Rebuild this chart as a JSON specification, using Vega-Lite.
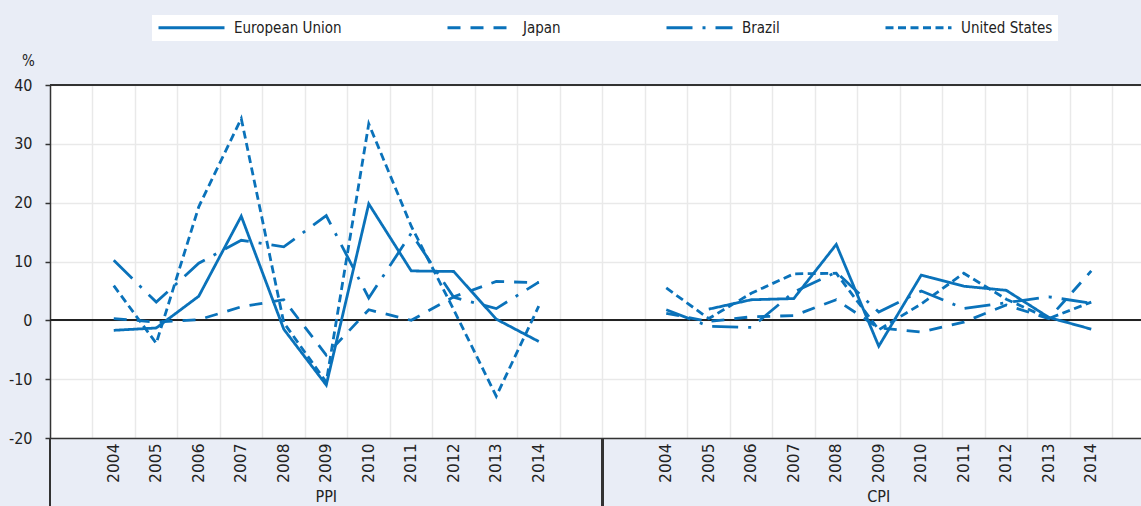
{
  "$schema": "https://vega.github.io/schema/vega-lite/v6.json",
  "width": 1091,
  "height": 353,
  "autosize": {"type": "none"},
  "padding": {"left": 50, "top": 85, "right": 0, "bottom": 68},
  "background": "#e9edf6",
  "config": {
    "view": {"fill": "white", "stroke": null},
    "font": "DejaVu Sans Condensed",
    "legend": {
      "orient": "none",
      "legendX": 102,
      "legendY": -70,
      "direction": "horizontal",
      "columns": 4,
      "columnPadding": 99,
      "fillColor": "white",
      "padding": 5,
      "symbolType": "M-1,0H10",
      "symbolSize": 144,
      "symbolStrokeWidth": 3,
      "symbolStrokeColor": "#0a72ba",
      "labelFontSize": 15,
      "labelFont": "DejaVu Sans Condensed",
      "labelColor": "#222222",
      "labelOffset": 62,
      "labelLimit": 400
    }
  },
  "datasets": {
    "series": [
      {"group": "PPI", "key": "PPI|2004", "series": "European Union", "v": -1.7},
      {"group": "PPI", "key": "PPI|2005", "series": "European Union", "v": -1.3},
      {"group": "PPI", "key": "PPI|2006", "series": "European Union", "v": 4.1},
      {"group": "PPI", "key": "PPI|2007", "series": "European Union", "v": 17.7},
      {"group": "PPI", "key": "PPI|2008", "series": "European Union", "v": -1.5},
      {"group": "PPI", "key": "PPI|2009", "series": "European Union", "v": -11.0},
      {"group": "PPI", "key": "PPI|2010", "series": "European Union", "v": 19.8},
      {"group": "PPI", "key": "PPI|2011", "series": "European Union", "v": 8.4},
      {"group": "PPI", "key": "PPI|2012", "series": "European Union", "v": 8.3},
      {"group": "PPI", "key": "PPI|2013", "series": "European Union", "v": 0.2},
      {"group": "PPI", "key": "PPI|2014", "series": "European Union", "v": -3.6},
      {"group": "PPI", "key": "PPI|2004", "series": "Japan", "v": 0.3},
      {"group": "PPI", "key": "PPI|2005", "series": "Japan", "v": -0.3},
      {"group": "PPI", "key": "PPI|2006", "series": "Japan", "v": 0.1},
      {"group": "PPI", "key": "PPI|2007", "series": "Japan", "v": 2.3},
      {"group": "PPI", "key": "PPI|2008", "series": "Japan", "v": 3.5},
      {"group": "PPI", "key": "PPI|2009", "series": "Japan", "v": -5.9},
      {"group": "PPI", "key": "PPI|2010", "series": "Japan", "v": 1.8},
      {"group": "PPI", "key": "PPI|2011", "series": "Japan", "v": 0.0},
      {"group": "PPI", "key": "PPI|2012", "series": "Japan", "v": 4.0},
      {"group": "PPI", "key": "PPI|2013", "series": "Japan", "v": 6.6},
      {"group": "PPI", "key": "PPI|2014", "series": "Japan", "v": 6.4},
      {"group": "PPI", "key": "PPI|2004", "series": "Brazil", "v": 10.2},
      {"group": "PPI", "key": "PPI|2005", "series": "Brazil", "v": 3.1},
      {"group": "PPI", "key": "PPI|2006", "series": "Brazil", "v": 9.7},
      {"group": "PPI", "key": "PPI|2007", "series": "Brazil", "v": 13.6},
      {"group": "PPI", "key": "PPI|2008", "series": "Brazil", "v": 12.5},
      {"group": "PPI", "key": "PPI|2009", "series": "Brazil", "v": 17.8},
      {"group": "PPI", "key": "PPI|2010", "series": "Brazil", "v": 3.8},
      {"group": "PPI", "key": "PPI|2011", "series": "Brazil", "v": 14.8},
      {"group": "PPI", "key": "PPI|2012", "series": "Brazil", "v": 3.9},
      {"group": "PPI", "key": "PPI|2013", "series": "Brazil", "v": 2.0},
      {"group": "PPI", "key": "PPI|2014", "series": "Brazil", "v": 6.5},
      {"group": "PPI", "key": "PPI|2004", "series": "United States", "v": 5.9},
      {"group": "PPI", "key": "PPI|2005", "series": "United States", "v": -3.9},
      {"group": "PPI", "key": "PPI|2006", "series": "United States", "v": 19.3},
      {"group": "PPI", "key": "PPI|2007", "series": "United States", "v": 34.3},
      {"group": "PPI", "key": "PPI|2008", "series": "United States", "v": -0.4},
      {"group": "PPI", "key": "PPI|2009", "series": "United States", "v": -10.5},
      {"group": "PPI", "key": "PPI|2010", "series": "United States", "v": 33.4},
      {"group": "PPI", "key": "PPI|2011", "series": "United States", "v": 16.0},
      {"group": "PPI", "key": "PPI|2012", "series": "United States", "v": 1.8},
      {"group": "PPI", "key": "PPI|2013", "series": "United States", "v": -12.9},
      {"group": "PPI", "key": "PPI|2014", "series": "United States", "v": 2.4},
      {"group": "CPI", "key": "CPI|2005", "series": "European Union", "v": 1.9},
      {"group": "CPI", "key": "CPI|2006", "series": "European Union", "v": 3.5},
      {"group": "CPI", "key": "CPI|2007", "series": "European Union", "v": 3.7},
      {"group": "CPI", "key": "CPI|2008", "series": "European Union", "v": 12.9},
      {"group": "CPI", "key": "CPI|2009", "series": "European Union", "v": -4.4},
      {"group": "CPI", "key": "CPI|2010", "series": "European Union", "v": 7.7},
      {"group": "CPI", "key": "CPI|2011", "series": "European Union", "v": 5.8},
      {"group": "CPI", "key": "CPI|2012", "series": "European Union", "v": 5.1},
      {"group": "CPI", "key": "CPI|2013", "series": "European Union", "v": 0.5},
      {"group": "CPI", "key": "CPI|2014", "series": "European Union", "v": -1.5},
      {"group": "CPI", "key": "CPI|2004", "series": "Japan", "v": 1.2},
      {"group": "CPI", "key": "CPI|2005", "series": "Japan", "v": -0.2},
      {"group": "CPI", "key": "CPI|2006", "series": "Japan", "v": 0.6},
      {"group": "CPI", "key": "CPI|2007", "series": "Japan", "v": 0.8},
      {"group": "CPI", "key": "CPI|2008", "series": "Japan", "v": 3.5},
      {"group": "CPI", "key": "CPI|2009", "series": "Japan", "v": -1.3},
      {"group": "CPI", "key": "CPI|2010", "series": "Japan", "v": -2.0},
      {"group": "CPI", "key": "CPI|2011", "series": "Japan", "v": -0.3},
      {"group": "CPI", "key": "CPI|2012", "series": "Japan", "v": 2.6},
      {"group": "CPI", "key": "CPI|2013", "series": "Japan", "v": 0.3},
      {"group": "CPI", "key": "CPI|2014", "series": "Japan", "v": 8.4},
      {"group": "CPI", "key": "CPI|2004", "series": "Brazil", "v": 1.8},
      {"group": "CPI", "key": "CPI|2005", "series": "Brazil", "v": -1.0},
      {"group": "CPI", "key": "CPI|2006", "series": "Brazil", "v": -1.2},
      {"group": "CPI", "key": "CPI|2007", "series": "Brazil", "v": 4.8},
      {"group": "CPI", "key": "CPI|2008", "series": "Brazil", "v": 8.2},
      {"group": "CPI", "key": "CPI|2009", "series": "Brazil", "v": 1.4},
      {"group": "CPI", "key": "CPI|2010", "series": "Brazil", "v": 5.0},
      {"group": "CPI", "key": "CPI|2011", "series": "Brazil", "v": 2.0},
      {"group": "CPI", "key": "CPI|2012", "series": "Brazil", "v": 3.0},
      {"group": "CPI", "key": "CPI|2013", "series": "Brazil", "v": 4.0},
      {"group": "CPI", "key": "CPI|2014", "series": "Brazil", "v": 2.9},
      {"group": "CPI", "key": "CPI|2004", "series": "United States", "v": 5.5},
      {"group": "CPI", "key": "CPI|2005", "series": "United States", "v": 0.3},
      {"group": "CPI", "key": "CPI|2006", "series": "United States", "v": 4.6},
      {"group": "CPI", "key": "CPI|2007", "series": "United States", "v": 7.9},
      {"group": "CPI", "key": "CPI|2008", "series": "United States", "v": 8.0},
      {"group": "CPI", "key": "CPI|2009", "series": "United States", "v": -1.6},
      {"group": "CPI", "key": "CPI|2010", "series": "United States", "v": 2.8},
      {"group": "CPI", "key": "CPI|2011", "series": "United States", "v": 8.0},
      {"group": "CPI", "key": "CPI|2012", "series": "United States", "v": 3.6},
      {"group": "CPI", "key": "CPI|2013", "series": "United States", "v": 0.3},
      {"group": "CPI", "key": "CPI|2014", "series": "United States", "v": 3.1}
    ]
  },
  "data": {"name": "series"},
  "encoding": {
    "x": {
      "field": "key",
      "type": "nominal",
      "bandPosition": 0.5,
      "scale": {
        "type": "band",
        "domain": ["PPI|", "PPI|2004", "PPI|2005", "PPI|2006", "PPI|2007", "PPI|2008", "PPI|2009", "PPI|2010", "PPI|2011", "PPI|2012", "PPI|2013", "PPI|2014", "PPI||",
                   "CPI|", "CPI|2004", "CPI|2005", "CPI|2006", "CPI|2007", "CPI|2008", "CPI|2009", "CPI|2010", "CPI|2011", "CPI|2012", "CPI|2013", "CPI|2014"],
        "paddingInner": 0,
        "paddingOuter": 0.335,
        "align": 0
      },
      "axis": {
        "title": null,
        "bandPosition": 1,
        "grid": true,
        "gridColor": "#e9e9e9",
        "gridWidth": 1.5,
        "ticks": false,
        "labelAngle": 270,
        "labelPadding": 5,
        "labelExpr": "split(datum.value, '|')[1]",
        "labelFont": "DejaVu Sans",
        "labelFontSize": 15.5,
        "labelColor": "#222222",
        "labelOverlap": false,
        "domainColor": "#333333",
        "domainWidth": 1.5
      }
    },
    "y": {
      "field": "v",
      "type": "quantitative",
      "scale": {"domain": [-20, 40], "nice": false, "zero": false},
      "axis": {
        "values": [-20, -10, 0, 10, 20, 30, 40],
        "labelExpr": "toString(datum.value)",
        "title": "%",
        "titleFont": "DejaVu Sans Condensed",
        "titleAngle": 0,
        "titleX": -22,
        "titleY": -25,
        "titleAlign": "center",
        "titleBaseline": "middle",
        "titleFontSize": 15,
        "titleFontWeight": "normal",
        "titleColor": "#222222",
        "labelFont": "DejaVu Sans Condensed",
        "labelFontSize": 16,
        "labelColor": "#222222",
        "labelPadding": 13,
        "tickSize": 5,
        "tickColor": "#333333",
        "tickWidth": 1.5,
        "domainColor": "#333333",
        "domainWidth": 1.5,
        "grid": true,
        "gridColor": "#e9e9e9",
        "gridWidth": 1.5
      }
    }
  },
  "layer": [
    {
      "mark": {"type": "rule", "color": "#222222", "strokeWidth": 1.5},
      "encoding": {"y": {"datum": 0}, "x": null}
    },
    {
      "mark": {"type": "rule", "color": "#333333", "strokeWidth": 1.5},
      "encoding": {"y": {"datum": 40}, "x": null}
    },
    {
      "mark": {"type": "line", "color": "#0a72ba", "strokeWidth": 2.8, "strokeCap": "butt"},
      "encoding": {
        "strokeDash": {
          "field": "series",
          "type": "nominal",
          "scale": {
            "domain": ["European Union", "Japan", "Brazil", "United States"],
            "range": [[1, 0], [13, 10], [26, 10, 3, 10], [8, 4.5]]
          },
          "legend": {"title": null}
        },
        "detail": {"field": "group", "type": "nominal"}
      }
    },
    {
      "mark": {"type": "rule", "color": "#333333", "strokeWidth": 1.5},
      "encoding": {
        "x": {"datum": "PPI|", "type": "nominal", "bandPosition": 0},
        "y": {"datum": -20},
        "y2": {"datum": -32}
      }
    },
    {
      "mark": {"type": "rule", "color": "#333333", "strokeWidth": 1.5},
      "encoding": {
        "x": {"datum": "CPI|", "type": "nominal", "bandPosition": 0},
        "y": {"datum": -20},
        "y2": {"datum": -32}
      }
    },
    {
      "data": {"values": [{"key": "PPI|2009", "label": "PPI", "v": -30}, {"key": "CPI|2009", "label": "CPI", "v": -30}]},
      "mark": {"type": "text", "font": "DejaVu Sans Condensed", "fontSize": 16, "fill": "#222222", "baseline": "middle", "align": "center"},
      "encoding": {
        "text": {"field": "label", "type": "nominal"}
      }
    }
  ]
}
